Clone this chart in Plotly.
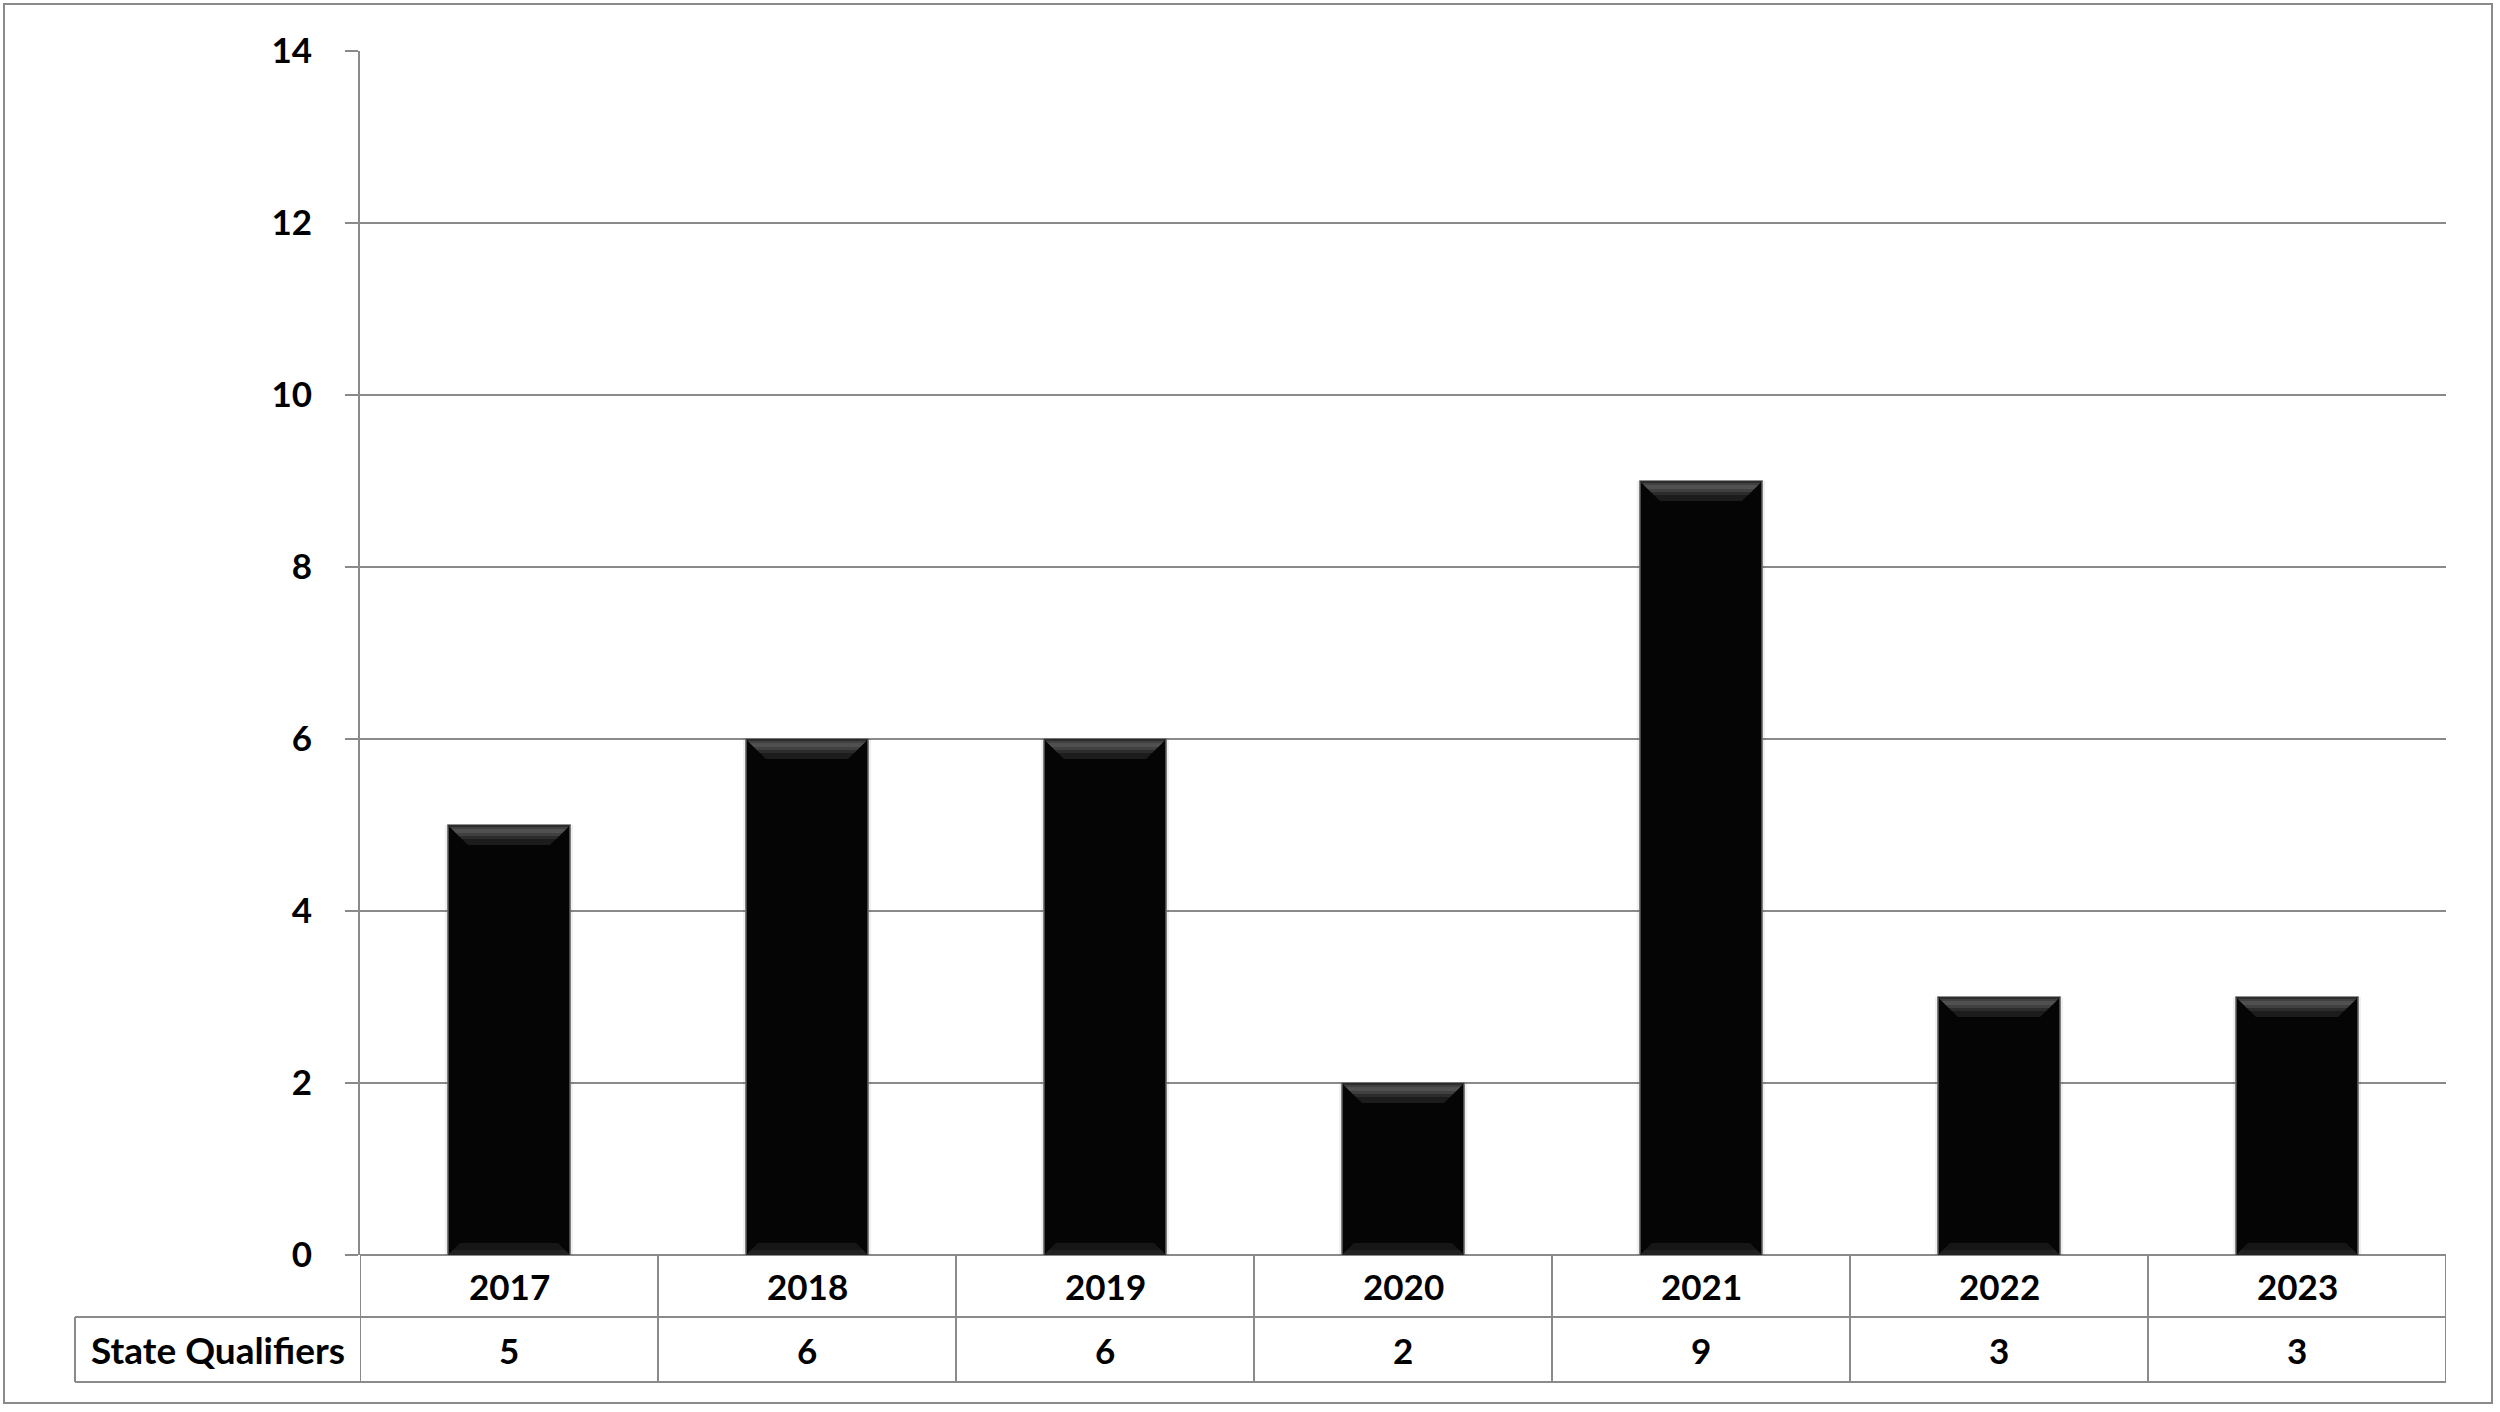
import plotly.graph_objects as go

years = ["2017", "2018", "2019", "2020", "2021", "2022", "2023"]
qualifiers = [5, 6, 6, 2, 9, 3, 3]
row_label = "State Qualifiers"
y_ticks = [0, 2, 4, 6, 8, 10, 12, 14]

W, H = 2500, 1412
# target pixel positions on the page
PL, PR, PT, PB = 360, 2446, 51, 1255
GRID = "#8a8a8a"
FONT = dict(family="Lato, Calibri, Arial", size=35, color="#000000", weight=700)
LFONT = dict(family="Lato, Calibri, Arial", size=37, color="#000000", weight=700)

UX = 1.0 / ((PR - PL) / 7)   # data units per pixel (x)
UY = 14.0 / (PB - PT)        # data units per pixel (y)


def px(x):
    return (x - PL) / (PR - PL)


def py(y):
    return (PB - y) / (PB - PT)


xs = list(range(len(years)))
bw = 0.41

fig = go.Figure()
fig.add_trace(go.Bar(
    x=xs, y=qualifiers, width=bw + 6 * UX,
    marker=dict(color="rgba(0,0,0,0.06)", line=dict(width=0)),
    hoverinfo="skip",
))
fig.add_trace(go.Bar(
    x=xs, y=qualifiers, width=bw,
    marker=dict(color="#050505", line=dict(color="#6e6e6e", width=1.5)),
    hoverinfo="skip",
))

shapes = []


def band(l, r, top, p0, p1, color, down=True):
    s = -1 if down else 1
    y0 = top + s * p0 * UY
    y1 = top + s * p1 * UY
    return dict(type="path", xref="x", yref="y",
                path=(f"M{l + p0 * UX},{y0} L{r - p0 * UX},{y0} "
                      f"L{r - p1 * UX},{y1} L{l + p1 * UX},{y1} Z"),
                fillcolor=color, line=dict(width=0), layer="above")


for i, v in enumerate(qualifiers):
    l, r = i - bw / 2, i + bw / 2
    shapes.append(band(l, r, v, 0, 20, "#1c1c1c"))
    shapes.append(band(l, r, v, 0, 14, "#2c2c2c"))
    shapes.append(band(l, r, v, 2, 11, "#404040"))
    shapes.append(band(l, r, v, 4, 8, "#505050"))
    shapes.append(band(l, r, 0, 0, 12, "#161616", down=False))
    shapes.append(band(l, r, 0, 0, 5, "#222222", down=False))

line = dict(color=GRID, width=2)
# outer frame
shapes.append(dict(type="rect", xref="paper", yref="paper",
                   x0=px(4), x1=px(2492), y0=py(1403), y1=py(4), line=line))
# table lines
r1, r2 = 1317, 1382
shapes.append(dict(type="line", xref="paper", yref="paper", x0=px(75), x1=px(PR), y0=py(r1), y1=py(r1), line=line))
shapes.append(dict(type="line", xref="paper", yref="paper", x0=px(75), x1=px(PR), y0=py(r2), y1=py(r2), line=line))
shapes.append(dict(type="line", xref="paper", yref="paper", x0=px(75), x1=px(75), y0=py(r1), y1=py(r2), line=line))
for k in range(len(years) + 1):
    xk = k - 0.5
    shapes.append(dict(type="line", xref="x", yref="paper", x0=xk, x1=xk, y0=py(PB), y1=py(r2), line=line))

annotations = []
for i, (yr, q) in enumerate(zip(years, qualifiers)):
    annotations.append(dict(x=i, xref="x", y=py((PB + r1) / 2), yref="paper", text=yr,
                            showarrow=False, font=FONT, xanchor="center", yanchor="middle"))
    annotations.append(dict(x=i, xref="x", y=py((r1 + r2) / 2), yref="paper", text=str(q),
                            showarrow=False, font=FONT, xanchor="center", yanchor="middle"))
annotations.append(dict(x=px((75 + PL) / 2), xref="paper", y=py((r1 + r2) / 2), yref="paper",
                        text=row_label, showarrow=False, font=LFONT, xanchor="center", yanchor="middle"))

fig.update_layout(
    width=W, height=H,
    margin=dict(l=PL, r=W - PR, t=PT, b=H - PB),
    paper_bgcolor="white", plot_bgcolor="white",
    showlegend=False, barmode="overlay",
    shapes=shapes, annotations=annotations,
    xaxis=dict(range=[-0.5, len(years) - 0.5], showticklabels=False, showgrid=False,
               zeroline=False, showline=False, ticks=""),
    yaxis=dict(range=[0, 14], tickvals=y_ticks, showgrid=True, gridcolor=GRID, gridwidth=2,
               zeroline=True, zerolinecolor=GRID, zerolinewidth=2,
               showline=True, linecolor=GRID, linewidth=2,
               ticks="outside", ticklen=13, tickwidth=2, tickcolor=GRID,
               ticklabelstandoff=26, tickfont=FONT),
)

fig.write_html("out.html",
               config={"displayModeBar": False, "staticPlot": True},
               post_script="document.body.style.margin='0';document.body.style.overflow='hidden';")
